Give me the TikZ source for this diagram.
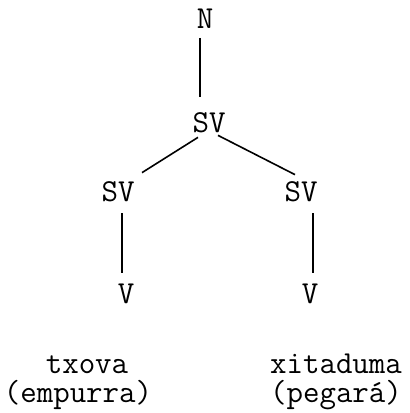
\documentclass[tikz,border=0pt]{standalone}
\usepackage{tikz}

\begin{document}
\begin{tikzpicture}[x=1pt,y=-1pt,
  lbl/.style={inner sep=0pt,font=\ttfamily\fontsize{32}{34}\selectfont},
  branch/.style={line width=1.6pt}]
\useasboundingbox (0,0) rectangle (410,413);

% tree labels
\node[lbl] (n) at (205,19) {N};
\node[lbl] (sv) at (209,123) {SV};
\node[lbl] (svl) at (118,192) {SV};
\node[lbl] (svr) at (301,192) {SV};
\node[lbl] (vl) at (126,294) {V};
\node[lbl] (vr) at (310,294) {V};

% words and glosses
\node[lbl,anchor=base] (wl) at (87,373) {txova};
\node[lbl,anchor=base] (gl) at (78,402) {(empurra)};
\node[lbl,anchor=base] (wr) at (336,373) {xitaduma};
\node[lbl,anchor=base] (gr) at (336,402) {(pegará)};

% branches
\draw[branch] ([xshift=-5pt,yshift=-9pt]n.south) -- ([xshift=-9pt,yshift=16pt]sv.north);
\draw[branch] ([xshift=-11pt,yshift=-4pt]sv.south) -- ([xshift=24pt,yshift=9pt]svl.north);
\draw[branch] ([xshift=9pt,yshift=-2pt]sv.south) -- ([xshift=-6pt,yshift=7pt]svr.north);
\draw[branch] ([xshift=4pt,yshift=-11pt]svl.south) -- ([xshift=-4pt,yshift=11pt]vl.north);
\draw[branch] ([xshift=12pt,yshift=-11pt]svr.south) -- ([xshift=3pt,yshift=11pt]vr.north);

\end{tikzpicture}
\end{document}
